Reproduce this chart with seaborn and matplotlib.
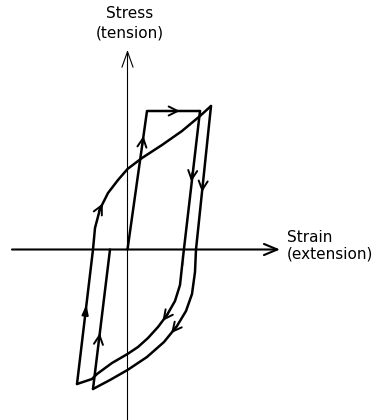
"""Stress-strain hysteresis loop drawn with seaborn line plots"""
import numpy as np
import pandas as pd
import matplotlib
matplotlib.use("Agg")
import matplotlib.pyplot as plt
import seaborn as sns

# branches of the loop (strain, stress) in arbitrary units
loading_strain = [0.0, 1.95, 7.25]
loading_stress = [0.0, 13.85, 13.85]

unload1_strain = [7.25, 5.55, 5.55, 5.25, 4.75, 3.95, 3.05, 2.05, 1.05, 0.0,
                  -1.55, -3.05, -3.55, -5.05]
unload1_stress = [13.85, 0.0, -1.55, -3.55, -5.15, -6.55, -7.75, -8.85, -9.75,
                  -10.45, -11.35, -12.45, -12.95, -13.45]

reload1_strain = [-5.05, -3.45, -3.25, -2.75, -1.95, -0.95, 0.0, 1.45, 3.45,
                  5.45, 7.25, 8.35]
reload1_stress = [-13.45, 0.0, 2.15, 4.05, 5.65, 6.95, 8.05, 9.15, 10.45,
                  11.85, 13.35, 14.35]

unload2_strain = [8.35, 6.85, 6.75, 6.45, 5.85, 4.95, 3.65, 1.95, 0.0, -1.75, -3.45]
unload2_stress = [14.35, 0.0, -2.25, -4.45, -6.15, -7.65, -9.25, -10.75, -12.05,
                  -13.05, -13.95]

reload2_strain = [-3.45, -1.75]
reload2_stress = [-13.95, 0.0]

branches = {
    "loading": (loading_strain, loading_stress),
    "unload1": (unload1_strain, unload1_stress),
    "reload1": (reload1_strain, reload1_stress),
    "unload2": (unload2_strain, unload2_stress),
    "reload2": (reload2_strain, reload2_stress),
}

open_head = "->,head_length=0.5,head_width=0.25"
small_filled = "-|>,head_length=0.45,head_width=0.15"

# where the direction arrows sit: (branch, segment index, fraction along segment, style)
arrow_marks = [
    ("loading", 0, 0.82, open_head),
    ("loading", 1, 0.62, open_head),
    ("unload1", 0, 0.51, open_head),
    ("unload2", 0, 0.60, open_head),
    ("unload1", 5, 0.50, open_head),
    ("unload2", 5, 0.45, open_head),
    ("reload1", 0, 0.59, small_filled),
    ("reload1", 3, 0.35, open_head),
    ("reload2", 0, 0.40, open_head),
]

sns.set_style("white")
fig = plt.figure(figsize=(3.82, 4.2), dpi=100)
ax = fig.add_axes([0, 0, 1, 1])

# draw each branch of the loop
for name, (xs, ys) in branches.items():
    df = pd.DataFrame({"strain": xs, "stress": ys})
    sns.lineplot(data=df, x="strain", y="stress", sort=False, color="black",
                 linewidth=1.8, ax=ax)

# direction arrows along the branches
for name, seg, frac, style in arrow_marks:
    xs, ys = branches[name]
    x0, y0 = xs[seg], ys[seg]
    x1, y1 = xs[seg + 1], ys[seg + 1]
    px = x0 + frac * (x1 - x0)
    py = y0 + frac * (y1 - y0)
    d = np.hypot(x1 - x0, y1 - y0)
    ux, uy = (x1 - x0) / d, (y1 - y0) / d
    ax.annotate("", xy=(px, py), xytext=(px - 0.9 * ux, py - 0.9 * uy),
                arrowprops=dict(arrowstyle=style, color="black", lw=1.4,
                                mutation_scale=13, shrinkA=0, shrinkB=0))

# axes with open arrow heads
ax.annotate("", xy=(15.25, 0), xytext=(-11.55, 0),
            arrowprops=dict(arrowstyle="->,head_length=0.6,head_width=0.25",
                            color="black", lw=1.5,
                            mutation_scale=16, shrinkA=0, shrinkB=0))
ax.annotate("", xy=(0, 19.95), xytext=(0, -17.1),
            arrowprops=dict(arrowstyle="->,head_length=0.7,head_width=0.25",
                            color="black", lw=0.8,
                            mutation_scale=16, shrinkA=0, shrinkB=0))

ax.text(0.25, 23.55, "Stress", ha="center", va="center", fontsize=11, color="black")
ax.text(0.25, 21.65, "(tension)", ha="center", va="center", fontsize=11, color="black")
ax.text(15.95, 1.15, "Strain", ha="left", va="center", fontsize=11, color="black")
ax.text(15.95, -0.45, "(extension)", ha="left", va="center", fontsize=11, color="black")

ax.set_xlim(-12.75, 25.45)
ax.set_ylim(-17.05, 24.95)
ax.set_axis_off()

fig.savefig("out.png", dpi=100)
